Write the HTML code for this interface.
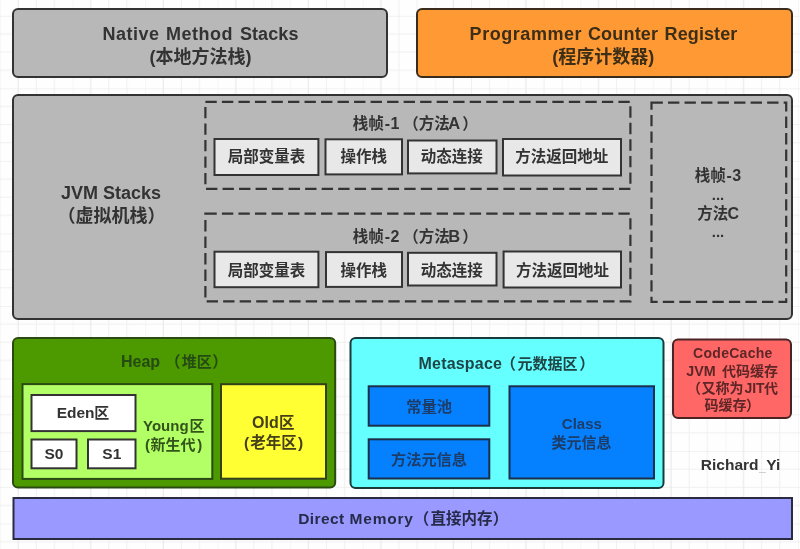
<!DOCTYPE html>
<html lang="zh-CN"><head><meta charset="utf-8"><title>JVM Runtime Data Areas</title>
<style>
html,body{margin:0;padding:0;background:#fff;}
body{width:800px;height:549px;overflow:hidden;position:relative;}
svg{display:block;position:absolute;left:0;top:0;}
svg text{font-family:'Liberation Sans','Noto Sans CJK SC',sans-serif;font-weight:bold;white-space:pre;}
svg{will-change:transform;filter:blur(0.45px);}
</style></head><body>
<svg width="800" height="549" viewBox="0 0 800 549">
<defs>
<pattern id="g" x="0" y="15.8" width="72.54" height="72.54" patternUnits="userSpaceOnUse">
<path d="M0.00 0V72.54M0 18.14H72.54M36.27 0V72.54M0 36.27H72.54M54.41 0V72.54M0 54.41H72.54" fill="none" stroke="#f0f0f0" stroke-width="1"/>
<path d="M0 0.00H72.54M18.14 0V72.54" fill="none" stroke="#e6e6e6" stroke-width="1"/>
</pattern>
</defs>
<rect x="0" y="0" width="800" height="549" fill="#fefefe"/>
<rect x="0" y="0" width="800" height="549" fill="url(#g)"/>
<rect x="13.00" y="9.00" width="374.00" height="68.00" rx="5" ry="5" fill="#b8b8b8" stroke="#333" stroke-width="2"/>
<rect x="417.00" y="9.00" width="375.00" height="68.00" rx="5" ry="5" fill="#ff9933" stroke="#3a2c1c" stroke-width="2"/>
<text y="39.80" font-size="18" fill="#333"><tspan x="102.50" font-size="18" letter-spacing="0.5">Native</tspan><tspan x="160.00" font-size="8"> </tspan><tspan x="166.00" font-size="18" letter-spacing="0.5">Method</tspan><tspan x="233.00" font-size="8"> </tspan><tspan x="239.90" font-size="18" letter-spacing="0.1">Stacks</tspan></text>
<text x="200.40" y="62.80" font-size="18" fill="#333" text-anchor="middle">(本地方法栈)</text>
<text y="39.80" font-size="18" fill="#3d2e18"><tspan x="469.60" font-size="18" letter-spacing="0.55">Programmer</tspan><tspan x="582.00" font-size="8"> </tspan><tspan x="587.90" font-size="18" letter-spacing="0.2">Counter</tspan><tspan x="658.00" font-size="8"> </tspan><tspan x="664.60" font-size="18" letter-spacing="0.1">Register</tspan></text>
<text x="603.20" y="62.80" font-size="18" fill="#3d2e18" text-anchor="middle">(程序计数器)</text>
<rect x="13.00" y="95.00" width="779.00" height="224.00" rx="5" ry="5" fill="#b8b8b8" stroke="#333" stroke-width="2"/>
<text x="111.00" y="199.00" font-size="18" fill="#333" text-anchor="middle">JVM Stacks</text>
<text x="111.50" y="222.00" font-size="18" fill="#333" text-anchor="middle">（虚拟机栈）</text>
<rect x="205.40" y="101.80" width="425.00" height="87.10" fill="none" stroke="#333" stroke-width="2.2" stroke-dasharray="11.35 5.17"/>
<rect x="205.40" y="213.70" width="425.00" height="87.70" fill="none" stroke="#333" stroke-width="2.2" stroke-dasharray="11.35 5.17"/>
<rect x="651.50" y="102.60" width="134.70" height="199.30" fill="none" stroke="#333" stroke-width="2.2" stroke-dasharray="11.35 5.17"/>
<rect x="214.50" y="139.00" width="103.90" height="36.00" fill="#e8e8e8" stroke="#333" stroke-width="2"/>
<rect x="325.50" y="139.30" width="76.50" height="35.10" fill="#e8e8e8" stroke="#333" stroke-width="2"/>
<rect x="408.00" y="140.50" width="88.50" height="32.90" fill="#e8e8e8" stroke="#333" stroke-width="2"/>
<rect x="503.00" y="139.00" width="118.00" height="36.50" fill="#e8e8e8" stroke="#333" stroke-width="2"/>
<text x="266.50" y="162.30" font-size="15.5" fill="#333" text-anchor="middle">局部变量表</text>
<text x="363.70" y="162.30" font-size="15.5" fill="#333" text-anchor="middle">操作栈</text>
<text x="451.70" y="162.30" font-size="15.5" fill="#333" text-anchor="middle">动态连接</text>
<text x="561.80" y="162.30" font-size="15.5" fill="#333" text-anchor="middle">方法返回地址</text>
<rect x="214.50" y="251.70" width="103.90" height="35.50" fill="#e8e8e8" stroke="#333" stroke-width="2"/>
<rect x="326.00" y="252.10" width="76.00" height="34.80" fill="#e8e8e8" stroke="#333" stroke-width="2"/>
<rect x="408.00" y="252.80" width="88.50" height="32.70" fill="#e8e8e8" stroke="#333" stroke-width="2"/>
<rect x="503.60" y="251.50" width="117.40" height="36.00" fill="#e8e8e8" stroke="#333" stroke-width="2"/>
<text x="266.50" y="275.90" font-size="15.5" fill="#333" text-anchor="middle">局部变量表</text>
<text x="363.70" y="275.90" font-size="15.5" fill="#333" text-anchor="middle">操作栈</text>
<text x="451.70" y="275.90" font-size="15.5" fill="#333" text-anchor="middle">动态连接</text>
<text x="562.60" y="275.90" font-size="15.5" fill="#333" text-anchor="middle">方法返回地址</text>
<text y="128.80" font-size="15" fill="#333"><tspan x="352.80" font-size="15.5">栈帧</tspan><tspan x="384.80" font-size="16">-</tspan><tspan x="390.60" font-size="16">1</tspan><tspan x="395.00" font-size="8"> </tspan><tspan x="403.20" font-size="15.5">（</tspan><tspan x="418.80" font-size="15.5">方法</tspan><tspan x="448.30" font-size="16.5">A</tspan><tspan x="462.30" font-size="15.5">）</tspan></text>
<text y="241.60" font-size="15" fill="#333"><tspan x="352.80" font-size="15.5">栈帧</tspan><tspan x="384.80" font-size="16">-</tspan><tspan x="390.60" font-size="16">2</tspan><tspan x="395.00" font-size="8"> </tspan><tspan x="403.20" font-size="15.5">（</tspan><tspan x="418.80" font-size="15.5">方法</tspan><tspan x="448.20" font-size="16.5">B</tspan><tspan x="462.30" font-size="15.5">）</tspan></text>
<text y="181.00" font-size="15" fill="#333"><tspan x="694.80" font-size="15.5">栈帧</tspan><tspan x="726.60" font-size="16">-</tspan><tspan x="732.20" font-size="16">3</tspan></text>
<text x="718.00" y="200.00" font-size="15" fill="#333" text-anchor="middle">...</text>
<text y="218.80" font-size="15" fill="#333"><tspan x="697.30" font-size="15.5">方法</tspan><tspan x="727.60" font-size="16">C</tspan></text>
<text x="718.00" y="237.30" font-size="15" fill="#333" text-anchor="middle">...</text>
<rect x="13.00" y="338.00" width="322.20" height="149.50" rx="5" ry="5" fill="#4c9900" stroke="#2b4a12" stroke-width="2"/>
<text y="366.70" font-size="15" fill="#264a13"><tspan x="121.00" font-size="16">Heap</tspan><tspan x="161.00" font-size="8"> </tspan><tspan x="165.00" font-size="15.5">（</tspan><tspan x="181.70" font-size="15">堆区</tspan><tspan x="212.20" font-size="15.5">）</tspan></text>
<rect x="22.50" y="384.10" width="189.80" height="94.80" fill="#b3ff66" stroke="#2b4a12" stroke-width="2"/>
<rect x="31.50" y="395.00" width="104.00" height="36.10" fill="#fff" stroke="#333" stroke-width="2"/>
<rect x="31.50" y="439.50" width="45.00" height="28.80" fill="#fff" stroke="#333" stroke-width="2"/>
<rect x="88.00" y="439.50" width="47.50" height="28.80" fill="#fff" stroke="#333" stroke-width="2"/>
<text y="418.00" font-size="15" fill="#333"><tspan x="56.70" font-size="15.5">Eden</tspan><tspan x="94.30" font-size="15">区</tspan></text>
<text y="459.10" font-size="15" fill="#333"><tspan x="44.50" font-size="15.5">S0</tspan></text>
<text y="459.10" font-size="15" fill="#333"><tspan x="102.30" font-size="15.5">S1</tspan></text>
<text y="430.90" font-size="15" fill="#33541a"><tspan x="143.00" font-size="15">Young</tspan><tspan x="189.40" font-size="15">区</tspan></text>
<text y="450.40" font-size="15" fill="#33541a"><tspan x="145.00" font-size="15">(</tspan><tspan x="150.50" font-size="15">新生代</tspan><tspan x="197.30" font-size="15">)</tspan></text>
<rect x="221.00" y="384.20" width="105.00" height="94.50" fill="#ffff33" stroke="#33401a" stroke-width="2"/>
<text y="428.10" font-size="15" fill="#45401a"><tspan x="252.00" font-size="16">Old</tspan><tspan x="278.90" font-size="15.5">区</tspan></text>
<text y="448.40" font-size="15" fill="#45401a"><tspan x="244.00" font-size="15.5">(</tspan><tspan x="250.20" font-size="15.5">老年区</tspan><tspan x="297.90" font-size="15.5">)</tspan></text>
<rect x="350.50" y="338.00" width="313.00" height="150.00" rx="5" ry="5" fill="#66ffff" stroke="#183a3a" stroke-width="2"/>
<text y="368.70" font-size="15" fill="#1f4546"><tspan x="418.50" font-size="16" letter-spacing="0.2">Metaspace</tspan><tspan x="500.60" font-size="15.5">（</tspan><tspan x="517.60" font-size="15">元数据区</tspan><tspan x="579.20" font-size="15.5">）</tspan></text>
<rect x="368.70" y="386.30" width="120.60" height="39.40" fill="#0580ff" stroke="#1b2f4a" stroke-width="2"/>
<rect x="368.70" y="439.30" width="120.60" height="39.20" fill="#0580ff" stroke="#1b2f4a" stroke-width="2"/>
<rect x="509.50" y="386.30" width="144.50" height="92.20" fill="#0580ff" stroke="#1b2f4a" stroke-width="2"/>
<text y="411.90" font-size="15" fill="#1d3d68"><tspan x="406.20" font-size="15.3">常量池</tspan></text>
<text y="465.00" font-size="15" fill="#1d3d68"><tspan x="391.00" font-size="15.2">方法元信息</tspan></text>
<text y="429.20" font-size="15" fill="#1d3d68"><tspan x="561.80" font-size="15">Class</tspan></text>
<text y="447.60" font-size="15" fill="#1d3d68"><tspan x="551.50" font-size="15">类元信息</tspan></text>
<rect x="673.00" y="339.50" width="118.00" height="78.50" rx="5" ry="5" fill="#ff6666" stroke="#4a2424" stroke-width="2"/>
<text y="357.80" font-size="15" fill="#5e2626"><tspan x="693.10" font-size="14" letter-spacing="0.28">CodeCache</tspan></text>
<text y="375.70" font-size="15" fill="#5e2626"><tspan x="686.20" font-size="14.3">JVM</tspan><tspan x="717.00" font-size="6"> </tspan><tspan x="721.90" font-size="14">代码缓存</tspan></text>
<text y="392.80" font-size="15" fill="#5e2626"><tspan x="686.90" font-size="14">（</tspan><tspan x="701.60" font-size="14">又称为</tspan><tspan x="744.40" font-size="14">JIT</tspan><tspan x="764.00" font-size="14">代</tspan></text>
<text y="409.50" font-size="15" fill="#5e2626"><tspan x="704.50" font-size="14">码缓存</tspan><tspan x="746.10" font-size="14">）</tspan></text>
<text y="470.00" font-size="15" fill="#333"><tspan x="700.80" font-size="15.5">Richard</tspan><tspan x="759.00" font-size="12" y="471.30" fill="#a8a8a8">_</tspan><tspan x="766.30" font-size="15.5" y="470.00">Yi</tspan></text>
<rect x="13.50" y="498.00" width="778.50" height="41.00" fill="#9999ff" stroke="#2a2a40" stroke-width="2"/>
<text y="524.10" font-size="15" fill="#272b4a"><tspan x="298.20" font-size="15.5" letter-spacing="0.4">Direct</tspan><tspan x="345.00" font-size="6"> </tspan><tspan x="349.60" font-size="15.5" letter-spacing="0.75">Memory</tspan><tspan x="413.70" font-size="15.5">（</tspan><tspan x="430.40" font-size="15.5">直接内存</tspan><tspan x="492.70" font-size="15.5">）</tspan></text>
</svg>
</body></html>
